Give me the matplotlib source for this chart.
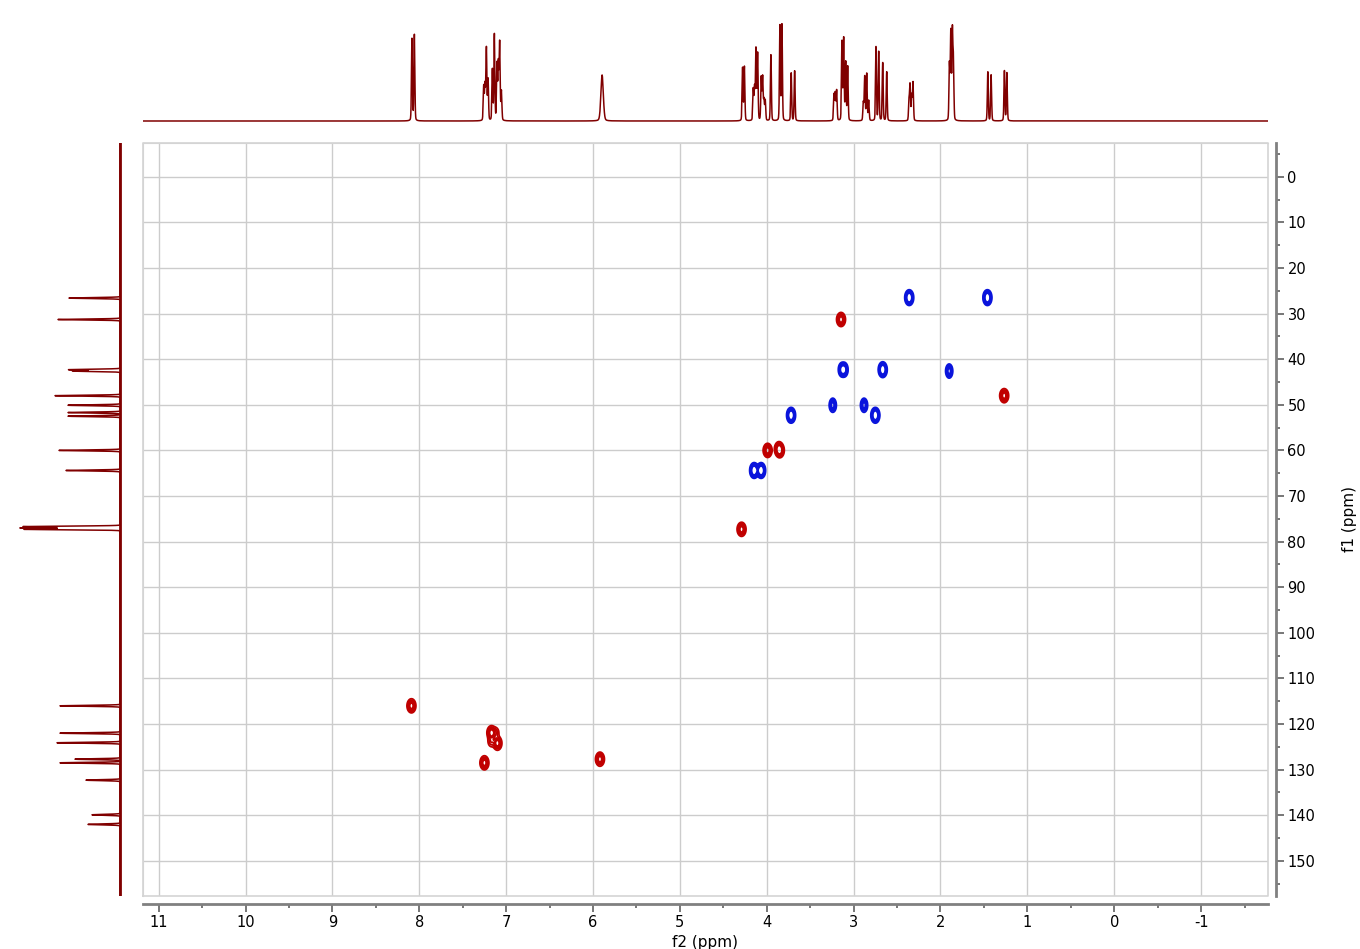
import numpy as np
import matplotlib
matplotlib.use('Agg')
import matplotlib.pyplot as plt
from matplotlib.ticker import MultipleLocator

plt.rcParams['axes.unicode_minus'] = False

# %% data
# 1H trace (top): shift (ppm), height (px units)
h_shift = [8.084, 8.056,
           7.258, 7.243, 7.227, 7.208, 7.158, 7.135, 7.105, 7.089, 7.074, 7.054,
           5.895,
           4.278, 4.257, 4.155, 4.140, 4.124, 4.105, 4.063, 4.047, 4.032, 4.017,
           3.952, 3.848, 3.825, 3.718, 3.679,
           3.226, 3.211, 3.195, 3.134, 3.114, 3.091, 3.068,
           2.888, 2.872, 2.849, 2.826, 2.742, 2.711, 2.665, 2.619,
           2.362, 2.350, 2.331, 2.316,
           1.897, 1.881, 1.863, 1.851,
           1.455, 1.417, 1.264, 1.236]
h_height = [82, 86,
            34, 35, 72, 41, 51, 86, 56, 56, 77, 29,
            46,
            53, 54, 31, 32, 71, 67, 43, 43, 20, 20,
            66, 95, 96, 48, 50,
            26, 27, 30, 79, 82, 58, 54,
            18, 44, 47, 20, 74, 69, 58, 49,
            20, 35, 25, 38,
            56, 88, 87, 56,
            49, 46, 50, 48]
h_width = [0.0055] * len(h_shift)
h_width[12] = 0.014   # broad NH

# 13C trace (left): shift (ppm), height (px units)
c_shift = [26.6, 31.3, 42.3, 42.6, 48.0, 50.1, 51.7, 52.5, 60.0, 64.4,
           76.7, 77.0, 77.3,
           116.0, 122.0, 124.1, 127.7, 128.5, 132.3, 139.9, 142.0]
c_height = [51, 62, 51, 47, 65, 52, 52, 52, 61, 54,
            96, 98, 95,
            60, 60, 63, 45, 60, 34, 28, 32]

# HSQC cross peaks (f2 1H ppm, f1 13C ppm)
pos_h = [3.145, 1.267, 3.99, 3.86, 3.85, 4.29, 8.09, 7.17, 7.17, 7.12, 7.10, 7.25, 5.92]
pos_c = [31.3, 48.0, 60.0, 59.6, 60.1, 77.3, 116.0, 121.9, 123.8, 121.9, 124.2, 128.5, 127.7]
pos_a = [1.0, 1.0, 1.0, 0.8, 0.8, 1.0, 1.0, 1.0, 0.35, 0.3, 1.0, 1.0, 1.0]

neg_h = [2.37, 2.35, 1.47, 1.45, 3.135, 3.105, 2.675, 2.655, 1.90, 3.24, 2.88, 3.73, 3.71,
         2.76, 2.74, 4.155, 4.135, 4.075, 4.055]
neg_c = [26.5, 26.5, 26.5, 26.5, 42.3, 42.3, 42.3, 42.3, 42.6, 50.1, 50.1, 52.3, 52.3,
         52.3, 52.3, 64.4, 64.4, 64.4, 64.4]

# %% geometry
W, H = 1360, 949
fig = plt.figure(figsize=(W / 100, H / 100), dpi=100)

def box(x0, y0, x1, y1):
    return [x0 / W, 1 - y1 / H, (x1 - x0) / W, (y1 - y0) / H]

xl = (11.18, -1.77)
yl = (157.7, -7.4)

ax = fig.add_axes(box(143, 143, 1268, 896))
ax_top = fig.add_axes(box(143, 10, 1268, 125), sharex=ax)
ax_left = fig.add_axes(box(10, 143, 125, 896), sharey=ax)

# %% 2D contours
gx = np.arange(0.8, 8.6, 0.004)
gy = np.arange(18, 136, 0.15)
X, Y = np.meshgrid(gx, gy)
sx, sy = 0.024, 0.72

Zp = np.zeros_like(X)
for h, c, a in zip(pos_h, pos_c, pos_a):
    Zp += a * np.exp(-0.5 * ((X - h) / sx) ** 2 - 0.5 * ((Y - c) / sy) ** 2)
Zn = np.zeros_like(X)
for h, c in zip(neg_h, neg_c):
    Zn += np.exp(-0.5 * ((X - h) / (sx * 0.8)) ** 2 - 0.5 * ((Y - c) / sy) ** 2)

levels = [0.1, 0.22, 0.36, 0.52, 0.7]
ax.contour(X, Y, Zp, levels=levels, colors='#c00000', linewidths=1.3)
ax.contour(X, Y, Zn, levels=levels, colors='#0a14dc', linewidths=1.3)

ax.set_xlim(xl)
ax.set_ylim(yl)

# frame + offset axes
for s in ['left', 'top']:
    ax.spines[s].set_color('#d4d4d4')
for s in ['right', 'bottom']:
    ax.spines[s].set_position(('outward', 6))
    ax.spines[s].set_color('#808080')
    ax.spines[s].set_linewidth(2)
ax.plot([0, 1, 1, 0, 0], [0, 0, 1, 1, 0], transform=ax.transAxes,
        color='#d4d4d4', lw=1.2, clip_on=False)

ax.xaxis.set_major_locator(MultipleLocator(1))
ax.xaxis.set_minor_locator(MultipleLocator(0.5))
ax.yaxis.set_major_locator(MultipleLocator(10))
ax.yaxis.set_minor_locator(MultipleLocator(5))
ax.yaxis.tick_right()
ax.yaxis.set_label_position('right')
ax.tick_params(which='major', length=6, width=1.2, color='#606060', labelsize=10.5, pad=2)
ax.tick_params(which='minor', length=3, width=1.2, color='#606060')
ax.grid(True, which='major', color='#cccccc', lw=1)
ax.set_xlabel('f2 (ppm)', fontsize=11, labelpad=3)
ax.set_ylabel('f1 (ppm)', fontsize=11)
ax.yaxis.set_label_coords((1342 - 143) / 1125, 0.5)

# %% 1H trace (pseudo-Voigt lines)
hx = np.arange(-1.8, 11.2, 0.0008)
hy = np.zeros_like(hx)
for s, a, w in zip(h_shift, h_height, h_width):
    g = np.exp(-0.5 * ((hx - s) / w) ** 2)
    lz = w ** 2 / ((hx - s) ** 2 + w ** 2)
    hy += a * (0.75 * g + 0.25 * lz)
ax_top.plot(hx, hy, color='#800000', lw=1.1)
ax_top.set_ylim(-4, 111)
ax_top.axis('off')

# %% 13C trace
cy = np.arange(-7.4, 157.7, 0.01)
cx = np.zeros_like(cy)
for s, a in zip(c_shift, c_height):
    cx += a * np.exp(-0.5 * ((cy - s) / 0.1) ** 2)
ax_left.plot(cx, cy, color='#800000', lw=1.1)
ax_left.axvline(0, color='#800000', lw=2)
ax_left.set_xlim(110, -5)
ax_left.axis('off')

ax.set_xlim(xl)
ax.set_ylim(yl)

fig.savefig('out.png', dpi=100)
